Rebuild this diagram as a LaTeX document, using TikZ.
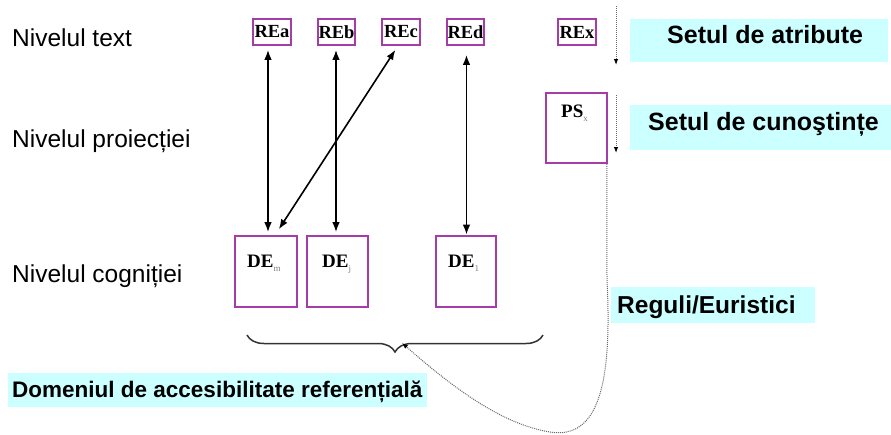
\documentclass[tikz,border=0pt]{standalone}
\usepackage{fontspec}
\setmainfont{Liberation Serif}
\newfontfamily\arialf{Liberation Sans}
\usetikzlibrary{arrows.meta,decorations.pathreplacing}

\definecolor{boxpurple}{RGB}{165,60,170}
\definecolor{tagcyan}{RGB}{204,255,255}
\definecolor{dotgray}{RGB}{105,105,105}

\newcommand{\subgray}[1]{\raisebox{-4pt}{\fontsize{9}{9}\selectfont\mdseries\color{gray}#1}}

\tikzset{
  rebox/.style={draw=boxpurple, line width=1.6pt, minimum height=26pt, inner sep=0pt,
                font=\fontsize{18.5}{18.5}\selectfont\bfseries},
  tallbox/.style={draw=boxpurple, line width=1.6pt, inner sep=0pt},
  boxtext/.style={font=\fontsize{19}{19}\selectfont\bfseries, inner sep=0pt, anchor=base west},
  levellabel/.style={font=\arialf\fontsize{24.5}{24.5}\selectfont, anchor=base west, inner sep=0pt},
  tagtext/.style={font=\arialf\bfseries, anchor=base west, inner sep=0pt},
  link/.style={line width=1.6pt, {Latex[length=10pt,width=7.5pt]}-{Latex[length=10pt,width=7.5pt]}},
  dotlink/.style={dotgray, line width=1pt, dash pattern=on 1pt off 1pt,
                  -{Latex[length=6pt,width=4.5pt,black]}},
  bracestyle/.style={decorate, decoration={brace, amplitude=17pt, mirror},
                     line width=1.5pt, black!80},
}

\begin{document}
\begin{tikzpicture}[x=1pt,y=-1pt]
\useasboundingbox (0,0) rectangle (891,434);

% level names on the left
\node[levellabel] (lvText) at (12,46) {Nivelul text};
\node[levellabel] (lvProj) at (12,147) {Nivelul proiecției};
\node[levellabel] (lvCogn) at (12,282) {Nivelul cogniției};

% cyan tags
\fill[tagcyan] (630,19) rectangle (888,62);
\node[tagtext, font=\arialf\bfseries\fontsize{25}{25}\selectfont] (tagAttr) at (667,43) {Setul de atribute};
\fill[tagcyan] (630,105) rectangle (891,150);
\node[tagtext, font=\arialf\bfseries\fontsize{25}{25}\selectfont] (tagKnow) at (648,130) {Setul de cunoştințe};
\fill[tagcyan] (611,287) rectangle (815,323);
\node[tagtext, font=\arialf\bfseries\fontsize{24.5}{24.5}\selectfont] (tagRules) at (617,313) {Reguli/Euristici};
\fill[tagcyan] (8,373) rectangle (427,407);
\node[tagtext, font=\arialf\bfseries\fontsize{22.5}{22.5}\selectfont] (tagDom) at (12,397) {Domeniul de accesibilitate referențială};

% text level: referring expressions
\node[rebox, minimum width=38pt] (REa) at (272,32) {REa};
\node[rebox, minimum width=37pt] (REb) at (336.5,32) {REb};
\node[rebox, minimum width=38pt] (REc) at (401,32) {REc};
\node[rebox, minimum width=37pt] (REd) at (465.5,32) {REd};
\node[rebox, minimum width=38pt] (REx) at (577,32) {REx};

% projection level
\node[tallbox, minimum width=61pt, minimum height=70pt] (PS) at (576.5,128) {};
\node[boxtext] (PSlabel) at (561,117) {PS\subgray{x}};

% cognition level: discourse entities
\node[tallbox, minimum width=62pt, minimum height=71pt] (DEm) at (266,271.5) {};
\node[tallbox, minimum width=61pt, minimum height=71pt] (DEj) at (337.5,271.5) {};
\node[tallbox, minimum width=60pt, minimum height=71pt] (DE1) at (466,271.5) {};
\node[boxtext] (DEmlabel) at (247,267) {DE\subgray{m}};
\node[boxtext] (DEjlabel) at (322,267) {DE\subgray{j}};
\node[boxtext] (DE1label) at (448,267) {DE\subgray{1}};

% links between expressions and entities
\draw[link, shorten <=4pt, shorten >=3pt] ([xshift=-4pt]REa.south) -- ([xshift=2pt]DEm.north);
\draw[link, shorten <=4pt, shorten >=3pt] ([xshift=-0.5pt]REb.south) -- ([xshift=-1.5pt]DEj.north);
\draw[link, shorten <=4.8pt, shorten >=7pt] ([xshift=-3pt]REc.south) -- ([xshift=9pt]DEm.north);
\draw[link, shorten <=9pt, shorten >=0.5pt] ([xshift=1pt]REd.south) -- ([xshift=0.5pt]DE1.north);

% dotted downward arrows beside the tags
\coordinate (attrTop) at (616,6);
\coordinate (attrEnd) at (616,65);
\draw[dotlink] (attrTop) -- (attrEnd);
\coordinate (knowTop) at (616,95);
\coordinate (knowEnd) at (616,153);
\draw[dotlink] (knowTop) -- (knowEnd);

% accessibility domain brace
\coordinate (braceL) at (247,335);
\coordinate (braceR) at (543,335);
\draw[bracestyle] (braceL) -- (braceR);
\coordinate (braceTip) at (402,343);

% rules / heuristics path from the knowledge set to the domain
\draw[dotlink] ([xshift=-1pt]PS.south east) -- (607,280)
  .. controls (612,380) and (600,440) .. (550,432)
  .. controls (500,424) and (450,385) .. (braceTip);
\end{tikzpicture}
\end{document}
